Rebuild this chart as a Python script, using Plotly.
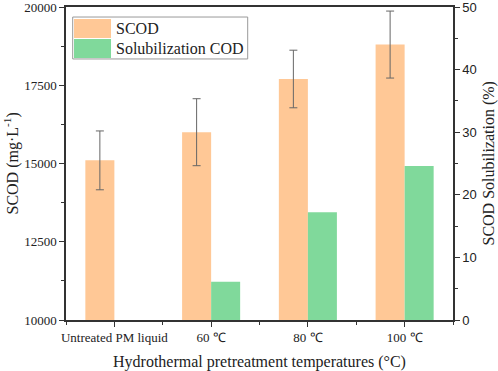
import plotly.graph_objects as go

categories = ["Untreated PM liquid", "60 ℃", "80 ℃", "100 ℃"]
scod = [15100, 16000, 17700, 18800]
scod_err = [940, 1070, 920, 1070]
sol_categories = ["60 ℃", "80 ℃", "100 ℃"]
solubilization = [6.1, 17.2, 24.6]

left_ticks = [10000, 12500, 15000, 17500, 20000]
left_tick_text = ["10000", "12500", "15000", "17500", "20000"]
right_ticks = [0, 10, 20, 30, 40, 50]
right_tick_text = ["0", "10", "20", "30", "40", "50"]

ORANGE = "#FFC896"
GREEN = "#80D99B"
SERIF = "Liberation Serif, Times New Roman, serif"
SANS = "Liberation Sans, Arial, sans-serif"
TXT = "#222222"

xpos = list(range(len(categories)))
sol_x = [categories.index(c) for c in sol_categories]

fig = go.Figure()
fig.add_trace(go.Bar(
    x=xpos, y=scod, name="SCOD", marker=dict(color=ORANGE, line=dict(width=0)),
    width=0.3, offset=-0.3, yaxis="y", showlegend=False,
    error_y=dict(type="data", array=scod_err, visible=True, color="#666666", thickness=1, width=4),
))
fig.add_trace(go.Bar(
    x=sol_x, y=solubilization, name="Solubilization COD",
    marker=dict(color=GREEN, line=dict(width=0)),
    width=0.3, offset=0, yaxis="y2", showlegend=False,
))

axis_line = dict(showline=True, linecolor="#333333", linewidth=1.5)

fig.update_layout(
    width=498, height=371,
    margin=dict(l=66, r=45, t=7, b=51),
    plot_bgcolor="white", paper_bgcolor="white",
    barmode="overlay",
    xaxis=dict(
        range=[-0.5, 3.5], tickmode="array", tickvals=xpos, ticktext=categories,
        ticks="outside", ticklen=5, tickwidth=1, tickcolor="#333333",
        minor=dict(tickmode="linear", tick0=0.5, dtick=1, ticks="outside", ticklen=3, tickcolor="#333333"),
        tickfont=dict(family=SERIF, size=13, color=TXT), ticklabeloverflow="allow",
        showgrid=False, zeroline=False, mirror=True, automargin=False, **axis_line,
    ),
    yaxis=dict(
        range=[10000, 20000], tickmode="array", tickvals=left_ticks, ticktext=left_tick_text,
        ticks="outside", ticklen=5, tickwidth=1, tickcolor="#333333",
        minor=dict(tickmode="linear", tick0=10000, dtick=1250, ticks="outside", ticklen=3, tickcolor="#333333"),
        tickfont=dict(family=SERIF, size=13, color=TXT), ticklabeloverflow="allow",
        showgrid=False, zeroline=False, automargin=False, **axis_line,
    ),
    yaxis2=dict(
        overlaying="y", side="right", range=[0, 50], tickmode="array", tickvals=right_ticks,
        ticktext=right_tick_text,
        ticks="outside", ticklen=5, tickwidth=1, tickcolor="#333333",
        minor=dict(tickmode="linear", tick0=0, dtick=5, ticks="outside", ticklen=3, tickcolor="#333333"),
        tickfont=dict(family=SANS, size=13, color=TXT), ticklabeloverflow="allow",
        showgrid=False, zeroline=False, automargin=False, **axis_line,
    ),
)

# axis titles
fig.add_annotation(xref="paper", yref="paper", x=0, y=0.5, xshift=-54, textangle=-90,
                   text="SCOD (mg·L<sup>-1</sup>)", showarrow=False, xanchor="center", yanchor="middle",
                   font=dict(family=SERIF, size=16, color=TXT))
fig.add_annotation(xref="paper", yref="paper", x=1, y=0.5, xshift=35, textangle=-90,
                   text="SCOD Solubilization (%)", showarrow=False, xanchor="center", yanchor="middle",
                   font=dict(family=SERIF, size=16, color=TXT))
fig.add_annotation(xref="paper", yref="paper", x=0.5, y=0, yshift=-42,
                   text="Hydrothermal pretreatment temperatures (°C)", showarrow=False,
                   xanchor="center", yanchor="middle", font=dict(family=SERIF, size=16, color=TXT))

# custom legend (drawn in paper coordinates)
fig.add_shape(type="rect", xref="paper", yref="paper", x0=0.0173, x1=0.4695, y0=0.834, y1=0.968,
              line=dict(color="#999999", width=1), fillcolor="white", layer="above")
fig.add_shape(type="rect", xref="paper", yref="paper", x0=0.0207, x1=0.1163, y0=0.9010, y1=0.9617,
              line=dict(width=0), fillcolor=ORANGE, layer="above")
fig.add_shape(type="rect", xref="paper", yref="paper", x0=0.0207, x1=0.1163, y0=0.8371, y1=0.8978,
              line=dict(width=0), fillcolor=GREEN, layer="above")
for label, yc in [("SCOD", 0.9310), ("Solubilization COD", 0.8680)]:
    fig.add_annotation(xref="paper", yref="paper", x=0.1240, y=yc, text=label, showarrow=False,
                       xanchor="left", yanchor="middle", font=dict(family=SERIF, size=16, color=TXT))

fig.write_html("out.html", config={"displayModeBar": False},
               post_script="document.body.style.margin='0';document.body.style.overflow='hidden';")
